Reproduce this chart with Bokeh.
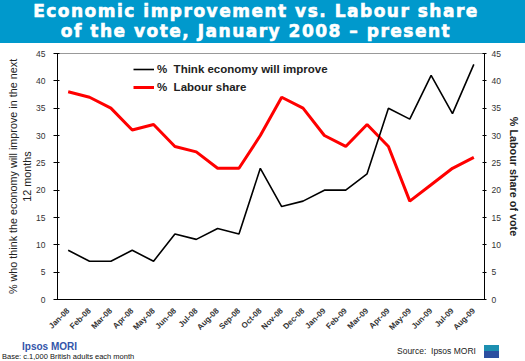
import math
from bokeh.plotting import figure
from bokeh.models import (FactorRange, Range1d, LinearAxis, Legend, LegendItem,
                          FixedTicker, ColumnDataSource, Div)
from bokeh.layouts import column
from bokeh.embed import file_html
from bokeh.resources import INLINE

# ---------------- data ----------------
months = ["Jan-08", "Feb-08", "Mar-08", "Apr-08", "May-08", "Jun-08", "Jul-08",
          "Aug-08", "Sep-08", "Oct-08", "Nov-08", "Dec-08", "Jan-09", "Feb-09",
          "Mar-09", "Apr-09", "May-09", "Jun-09", "Jul-09", "Aug-09"]
economy = [9, 7, 7, 9, 7, 12, 11, 13, 12, 24, 17, 18, 20, 20, 23, 35, 33, 41, 34, 43]
labour = [38, 37, 35, 31, 32, 28, 27, 24, 24, 30, 37, 35, 30, 28, 32, 28, 18, 21, 24, 26]
y_ticks = [0, 5, 10, 15, 20, 25, 30, 35, 40, 45]

title_lines = ["Economic improvement vs. Labour share",
               "of the vote, January 2008 \u2013 present"]
left_label = "% who think the economy will improve in the next\n12 months"
right_label = "% Labour share of vote"
legend_labels = ["%  Think economy will improve", "%  Labour share"]
footer_brand = "Ipsos MORI"
footer_base = "Base: c.1,000 British adults each month"
footer_source = "Source:&nbsp; Ipsos MORI"

W = 525
BLUE = "#0099CC"
FONT = "Liberation Sans"

# ---------------- banner ----------------
line_style = ("height:20px;line-height:20px;white-space:nowrap;")
banner = Div(
    text=("<div style=\"width:%dpx;height:43px;background:%s;color:white;"
          "font-family:'DejaVu Sans';font-weight:bold;font-size:17px;"
          "letter-spacing:1.5px;-webkit-text-stroke:0.6px white;"
          "text-align:center;padding-top:1px;padding-right:13px;"
          "box-sizing:border-box;\"><div style=\"%s\">%s</div>"
          "<div style=\"%s\">%s</div></div>")
    % (W, BLUE, line_style, title_lines[0], line_style, title_lines[1]),
    width=W, height=43, margin=0)

# ---------------- main chart ----------------
p = figure(width=W, height=295, x_range=FactorRange(factors=months, range_padding=0),
           y_range=Range1d(0, 45), output_backend="svg", toolbar_location=None,
           title=None, min_border_left=57, min_border_right=41,
           min_border_top=10, min_border_bottom=38)
p.extra_y_ranges = {"labour": Range1d(0, 45)}
p.grid.visible = False
p.outline_line_color = "#999999"
p.background_fill_color = "white"
p.border_fill_color = "white"

src = ColumnDataSource(dict(month=months, economy=economy, labour=labour))
r_lab = p.line("month", "labour", source=src, line_color="#FF0000", line_width=3,
               y_range_name="labour")
r_eco = p.line("month", "economy", source=src, line_color="black", line_width=1.6)

right = LinearAxis(y_range_name="labour", axis_label=right_label)
p.add_layout(right, "right")

for ax in p.yaxis:
    ax.ticker = FixedTicker(ticks=y_ticks)
    ax.axis_line_color = "black"
    ax.major_tick_line_color = "black"
    ax.minor_tick_line_color = None
    ax.major_label_text_font = FONT
    ax.major_label_text_font_size = "8.5px"
    ax.major_label_text_color = "#333333"
    ax.axis_label_text_font = FONT
    ax.axis_label_text_font_size = "10.8px"
    ax.axis_label_text_color = "#222222"

yl = p.yaxis[0]
yl.axis_label = left_label
yl.axis_label_text_font_style = "normal"
yl.major_tick_in = 2
yl.major_tick_out = 4
yl.major_label_standoff = 8
yl.axis_label_standoff = 0

right.axis_label_text_font_style = "bold"
right.major_tick_in = 2
right.major_tick_out = 2
right.major_label_standoff = 5
right.axis_label_standoff = 4

xa = p.xaxis[0]
xa.major_label_orientation = math.pi / 4
xa.major_label_text_font = FONT
xa.major_label_text_font_style = "bold"
xa.major_label_text_font_size = "8px"
xa.major_label_text_color = "#333333"
xa.major_tick_line_color = None
xa.axis_line_color = "black"
xa.major_label_standoff = 4

legend = Legend(items=[LegendItem(label=legend_labels[0], renderers=[r_eco]),
                       LegendItem(label=legend_labels[1], renderers=[r_lab])],
                location=(76, 203), margin=0, padding=0, spacing=0,
                glyph_width=21, glyph_height=18, label_height=18,
                label_standoff=3, border_line_color=None,
                background_fill_alpha=0,
                label_text_font=FONT, label_text_font_style="bold",
                label_text_font_size="11.5px", label_text_color="#222222")
p.add_layout(legend)

# ---------------- footer ----------------
footer = Div(
    text=("<div style=\"position:relative;width:%dpx;height:23px;"
          "font-family:'Liberation Sans';white-space:nowrap;\">"
          "<span style=\"position:absolute;left:22px;top:4px;font-size:10px;"
          "line-height:10px;font-weight:bold;color:#3355AA;\">%s</span>"
          "<span style=\"position:absolute;left:2px;top:14px;font-size:7.5px;"
          "line-height:9px;color:#111111;\">%s</span>"
          "<span style=\"position:absolute;left:397px;top:8px;font-size:8.5px;"
          "line-height:10px;color:#222222;\">%s</span>"
          "<div style=\"position:absolute;left:484px;top:7px;width:15px;height:13px;"
          "background:linear-gradient(#1C8FB0 0%%, #1C8FB0 45%%, #2C4FA0 45%%, #2C4FA0 100%%);\">"
          "</div></div>") % (W, footer_brand, footer_base, footer_source),
    width=W, height=23, margin=0)

layout = column(banner, p, footer, spacing=0)
open("out.html", "w").write(file_html(layout, INLINE))
